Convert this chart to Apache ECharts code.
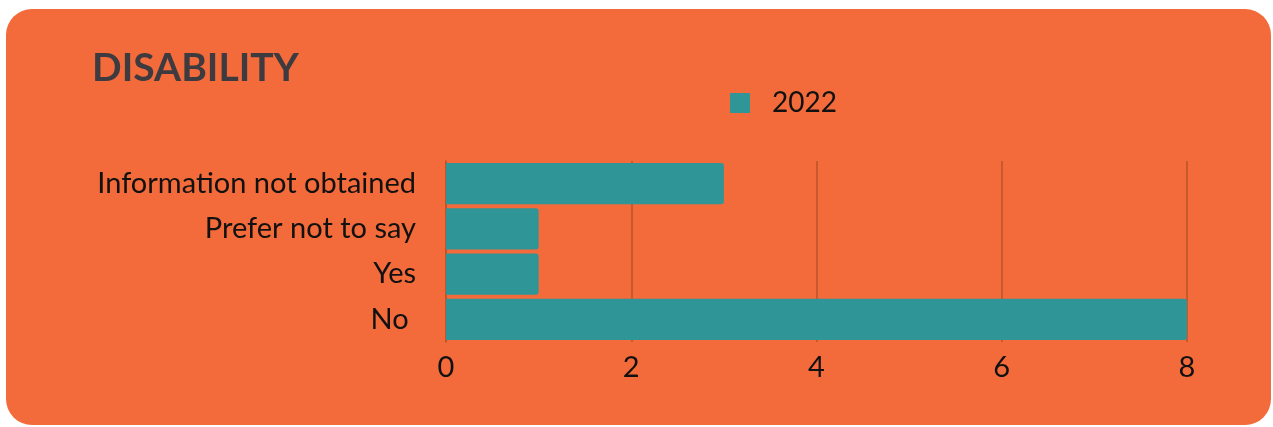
<!DOCTYPE html>
<html>
<head>
<meta charset="utf-8">
<script src="https://cdn.jsdelivr.net/npm/echarts@6/dist/echarts.min.js"></script>
<style>
  html, body { margin: 0; padding: 0; background: #fff; }
  #card {
    position: absolute; left: 6px; top: 9px; width: 1265px; height: 416px;
    background: #f36b3a; border-radius: 26px; overflow: hidden;
  }
  #echarts { width: 1265px; height: 416px; }
</style>
</head>
<body>
<div id="card"><div id="echarts"></div></div>
<script>
// 分类 (from bottom to top)
const categories = ['No ', 'Yes', 'Prefer not to say', 'Information not obtained']
const values2022 = [8, 1, 1, 3]
const seriesName = '2022'

const chart = echarts.init(document.querySelector('#echarts'))

chart.setOption({
  backgroundColor: 'transparent',
  textStyle: { fontFamily: 'Lato' },
  title: {
    text: 'DISABILITY',
    left: 81,
    top: 35,
    textStyle: { fontFamily: 'Lato', fontWeight: 'bold', fontSize: 39, color: '#3d3b3f' }
  },
  legend: {
    data: [seriesName],
    left: 719,
    top: 75,
    itemWidth: 20,
    itemHeight: 20,
    textStyle: { fontFamily: 'Lato', fontSize: 28, color: '#111', padding: [0, 0, 0, 17] },
    icon: 'rect'
  },
  grid: {
    left: 440,
    right: 84,
    top: 152,
    height: 181,
    containLabel: false
  },
  xAxis: {
    type: 'value',
    min: 0,
    max: 8,
    interval: 2,
    axisLine: { show: false },
    axisTick: { show: false },
    splitLine: { show: true, lineStyle: { color: '#b9532b', width: 1.5 } },
    axisLabel: { fontFamily: 'Lato', fontSize: 29, color: '#111', margin: 11 }
  },
  yAxis: {
    type: 'category',
    data: categories,
    axisLine: { show: true, lineStyle: { color: '#b9532b', width: 1.5 } },
    axisTick: { show: false },
    axisLabel: { fontFamily: 'Lato', fontSize: 29, color: '#111', margin: 30 }
  },
  series: [{
    name: seriesName,
    type: 'bar',
    data: values2022,
    barCategoryGap: '9%',
    itemStyle: { color: '#2f9597', borderRadius: [0, 3, 3, 0] }
  }]
})
</script>
</body>
</html>
